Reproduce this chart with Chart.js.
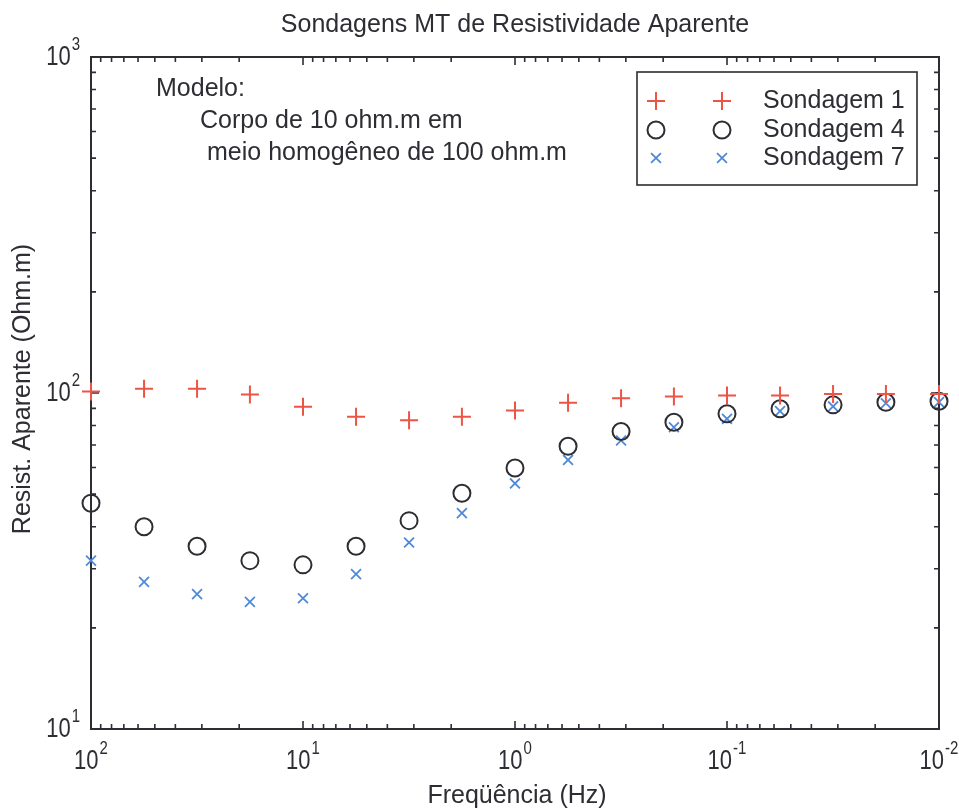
<!DOCTYPE html>
<html>
<head>
<meta charset="utf-8">
<title>Sondagens MT de Resistividade Aparente</title>
<script src="https://cdn.jsdelivr.net/npm/chart.js@4.4.1/dist/chart.umd.min.js"></script>
<style>
  html, body { margin: 0; background: #fff; }
  canvas { display: block; }
</style>
</head>
<body>
<canvas id="mtChart" width="959" height="808"></canvas>
<script>
// ─── dados ───────────────────────────────────────────────────
const FREQ = [100, 56.2, 31.6, 17.8, 10, 5.62, 3.16, 1.78, 1, 0.562, 0.316, 0.178, 0.1, 0.0562, 0.0316, 0.0178, 0.01]
const SOND1 = [101, 103, 103, 99, 91, 85, 83, 85, 88.7, 93.5, 96.5, 97.6, 98.3, 98.3, 99.4, 99.4, 99.4]
const SOND4 = [47, 40, 35, 31.7, 30.8, 35, 41.7, 50.3, 59.8, 69.4, 76.8, 81.8, 86.7, 89.8, 92.2, 93.9, 94.5]
const SOND7 = [31.7, 27.4, 25.2, 23.9, 24.5, 28.9, 35.9, 43.9, 53.8, 63.2, 72.2, 79.1, 83.8, 88.3, 91.2, 93.2, 93.9]

const X_DECADES = [100, 10, 1, 0.1, 0.01]
const X_EXP     = ['2', '1', '0', '-1', '-2']
const Y_DECADES = [10, 100, 1000]
const Y_EXP     = ['1', '2', '3']

const LABELS = ['Sondagem 1', 'Sondagem 4', 'Sondagem 7']
const NOTE   = ['Modelo:', 'Corpo de 10 ohm.m em', 'meio homogêneo de 100 ohm.m']

// ─── estilo ──────────────────────────────────────────────────
const INK   = '#2d2d33'
const FONT  = '"Liberation Sans", Arial, sans-serif'
const TXT   = '25px ' + FONT
const RED   = '#ec5446'
const BLUE  = '#4f8ad8'
const MINOR = [2, 3, 4, 5, 6, 7, 8, 9]

const pts = ys => FREQ.map((f, i) => ({ x: f, y: ys[i] }))

// "10" com expoente (dígitos estreitos e altos, como no original)
function drawPow(ctx, exp, x, y, mode) {
  const SY = 1.28
  ctx.font = '22px ' + FONT
  const wb = ctx.measureText('10').width
  ctx.font = '15px ' + FONT
  const we = ctx.measureText(exp).width
  const total = wb + 1 + we
  const left = mode === 'center' ? x - total / 2 : x - total
  ctx.save()
  ctx.translate(left, y)
  ctx.scale(1, SY)
  ctx.textAlign = 'left'
  ctx.textBaseline = 'middle'
  ctx.font = '22px ' + FONT
  ctx.fillText('10', 0, 0)
  ctx.font = '15px ' + FONT
  ctx.fillText(exp, wb + 1, -10)
  ctx.restore()
}

// caixa, ticks internos e rótulos no estilo MATLAB
const framePlugin = {
  id: 'frame',
  beforeDatasetsDraw(chart) {
    const { ctx, chartArea: a, scales: { x, y } } = chart
    ctx.save()
    ctx.strokeStyle = INK
    ctx.fillStyle = INK
    ctx.lineWidth = 1.6

    const xt = []
    X_DECADES.forEach(d => {
      xt.push([d, 8])
      if (d > 0.01) MINOR.forEach(m => xt.push([d / 10 * m, 5]))
    })
    const yt = []
    Y_DECADES.forEach(d => {
      yt.push([d, 8])
      if (d < 1000) MINOR.forEach(m => yt.push([d * m, 5]))
    })

    ctx.beginPath()
    xt.forEach(([v, len]) => {
      const px = x.getPixelForValue(v)
      ctx.moveTo(px, a.bottom); ctx.lineTo(px, a.bottom - len)
      ctx.moveTo(px, a.top);    ctx.lineTo(px, a.top + len)
    })
    yt.forEach(([v, len]) => {
      const py = y.getPixelForValue(v)
      ctx.moveTo(a.left, py);  ctx.lineTo(a.left + len, py)
      ctx.moveTo(a.right, py); ctx.lineTo(a.right - len, py)
    })
    ctx.stroke()

    ctx.lineWidth = 2
    ctx.strokeRect(a.left, a.top, a.right - a.left, a.bottom - a.top)

    X_DECADES.forEach((d, i) => drawPow(ctx, X_EXP[i], x.getPixelForValue(d), a.bottom + 32, 'center'))
    Y_DECADES.forEach((d, i) => drawPow(ctx, Y_EXP[i], a.left - 11, y.getPixelForValue(d), 'right'))

    // títulos
    ctx.font = TXT
    ctx.textAlign = 'center'
    ctx.textBaseline = 'middle'
    ctx.fillText('Sondagens MT de Resistividade Aparente', (a.left + a.right) / 2, 25)
    ctx.fillText('Freqüência (Hz)', (a.left + a.right) / 2 + 2, 796)
    ctx.save()
    ctx.translate(23, 389)
    ctx.rotate(-Math.PI / 2)
    ctx.fillText('Resist. Aparente (Ohm.m)', 0, 0)
    ctx.restore()
    ctx.restore()
  },
  afterDatasetsDraw(chart) {
    const { ctx } = chart
    ctx.save()
    ctx.fillStyle = INK
    ctx.font = TXT
    ctx.textAlign = 'left'
    ctx.textBaseline = 'middle'

    // texto do modelo
    ctx.fillText(NOTE[0], 156, 89)
    ctx.fillText(NOTE[1], 200, 121)
    ctx.fillText(NOTE[2], 207, 153)

    // legenda
    ctx.fillStyle = '#fff'
    ctx.fillRect(637, 72, 280, 113)
    ctx.strokeStyle = INK
    ctx.lineWidth = 1.6
    ctx.strokeRect(637, 72, 280, 113)
    const rows = [101, 130, 158]
    chart.data.datasets.forEach((ds, i) => {
      const style = { pointStyle: ds.pointStyle, radius: ds.pointRadius, borderWidth: ds.borderWidth, rotation: 0 }
      ctx.strokeStyle = ds.borderColor
      ctx.fillStyle = 'rgba(0,0,0,0)'
      ctx.lineWidth = ds.borderWidth
      Chart.helpers.drawPoint(ctx, style, 656, rows[i])
      Chart.helpers.drawPoint(ctx, style, 722, rows[i])
      ctx.fillStyle = INK
      ctx.fillText(ds.label, 763, rows[i])
    })
    ctx.restore()
  }
}

new Chart(document.getElementById('mtChart'), {
  type: 'scatter',
  data: {
    datasets: [
      { label: LABELS[0], data: pts(SOND1), pointStyle: 'cross',    pointRadius: 9, borderColor: RED,  backgroundColor: RED,  borderWidth: 2,   clip: false },
      { label: LABELS[1], data: pts(SOND4), pointStyle: 'circle',   pointRadius: 8.5, borderColor: INK, backgroundColor: 'rgba(0,0,0,0)', borderWidth: 2, clip: false },
      { label: LABELS[2], data: pts(SOND7), pointStyle: 'crossRot', pointRadius: 7, borderColor: BLUE, backgroundColor: BLUE, borderWidth: 1.8, clip: false },
    ]
  },
  options: {
    responsive: false,
    animation: false,
    layout: { padding: { left: 91, top: 57, right: 20, bottom: 79 } },
    plugins: { legend: { display: false }, tooltip: { enabled: false } },
    scales: {
      x: { type: 'logarithmic', reverse: true, min: 0.01, max: 100, display: false },
      y: { type: 'logarithmic', min: 10, max: 1000, display: false }
    }
  },
  plugins: [framePlugin]
})
</script>
</body>
</html>
